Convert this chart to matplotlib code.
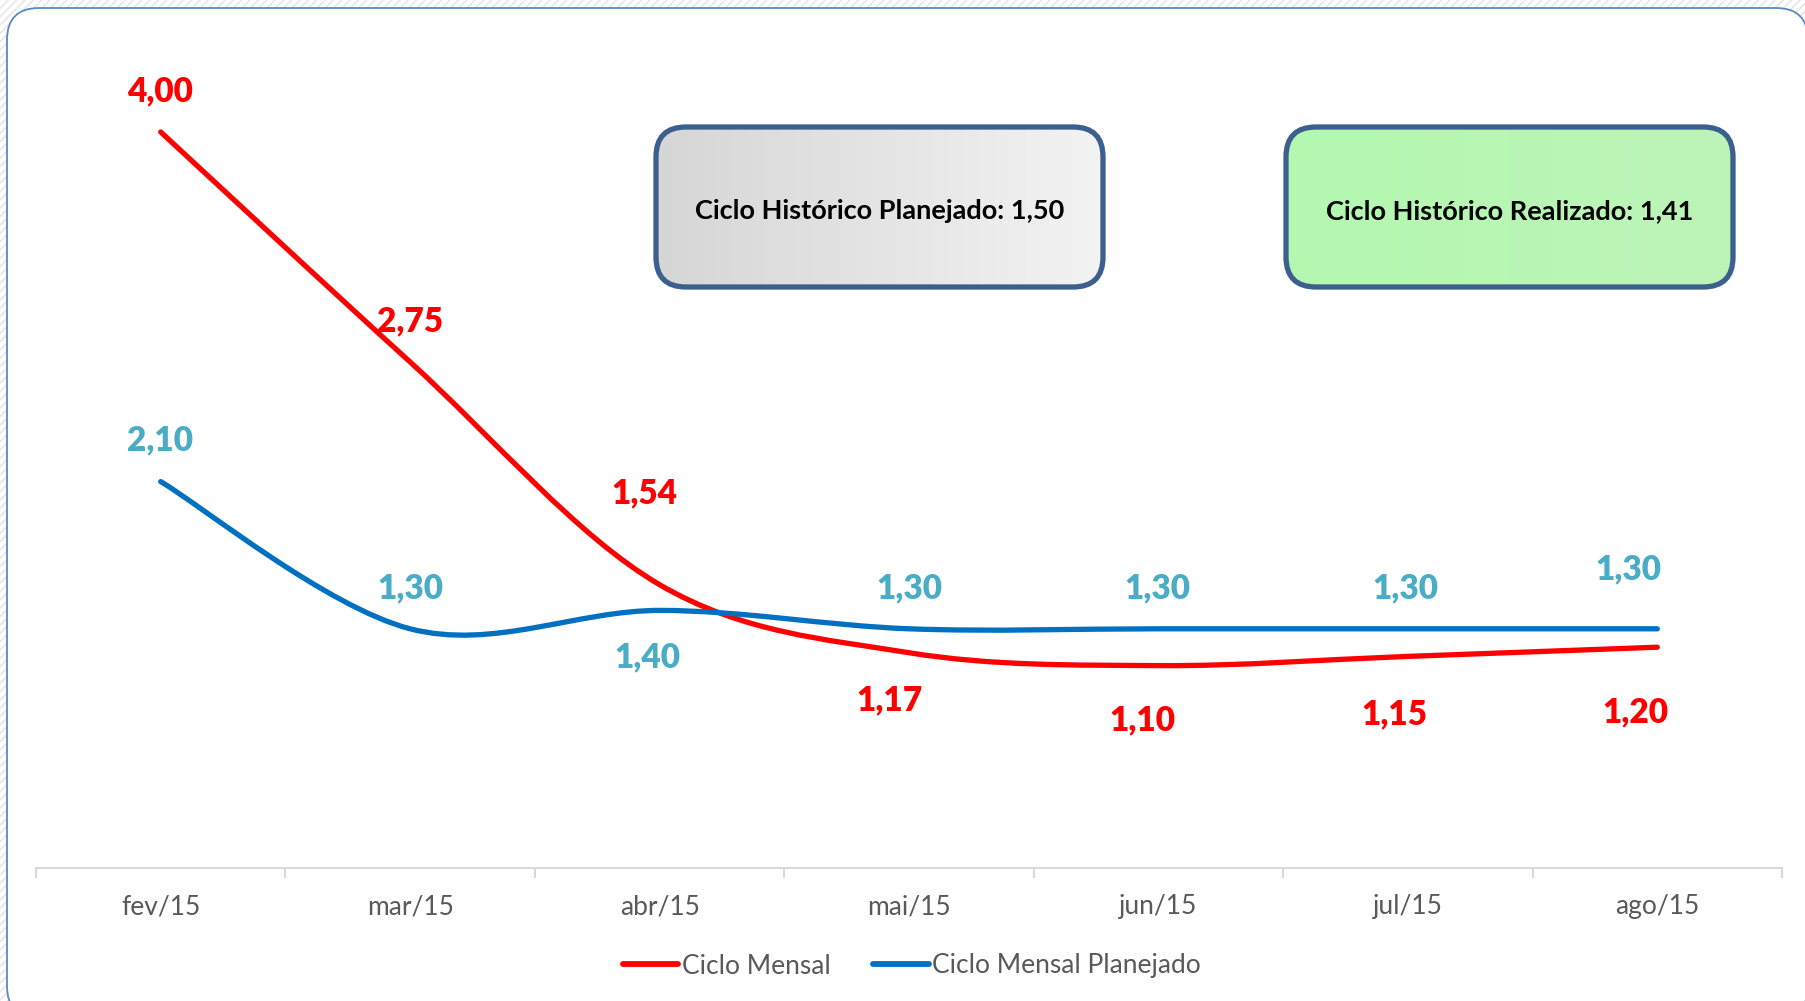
import numpy as np
import matplotlib
matplotlib.use("Agg")
import matplotlib.pyplot as plt
from matplotlib.path import Path
from matplotlib.patches import PathPatch, FancyBboxPatch, Rectangle
from matplotlib.lines import Line2D
from matplotlib.colors import LinearSegmentedColormap

plt.rcParams['font.family'] = ['Lato', 'DejaVu Sans']

# data
meses = ["fev/15", "mar/15", "abr/15", "mai/15", "jun/15", "jul/15", "ago/15"]
ciclo_mensal = [4.00, 2.75, 1.54, 1.17, 1.10, 1.15, 1.20]
ciclo_planejado = [2.10, 1.30, 1.40, 1.30, 1.30, 1.30, 1.30]
hist_planejado = "Ciclo Histórico Planejado: 1,50"
hist_realizado = "Ciclo Histórico Realizado: 1,41"

# label offsets in pixels (dx, dy up)
off_mensal = [(-1, 41), (0, 41), (-15, 91), (-20, -48), (-16, -55), (-13, -58), (-22, -65)]
off_planejado = [(-1, 41), (0, 40), (-12, -47), (0, 40), (-1, 40), (-2, 40), (-29, 59)]

RED = "#FF0000"
BLUE = "#0070C0"
TEAL = "#4BACC6"

W, H = 1805, 1001
fig = plt.figure(figsize=(W / 100, H / 100), dpi=100)

# overlay in pixel units for frame and boxes
ov = fig.add_axes([0, 0, 1, 1])
ov.set_zorder(0)
ov.axis("off")
ov.add_patch(Rectangle((0, 0), W, H, facecolor="white", edgecolor="#e4e4e4",
                       hatch="////", lw=0))
ov.add_patch(FancyBboxPatch((7, 8), 1801, 1010, boxstyle="round,pad=0,rounding_size=32",
                            facecolor="white", edgecolor="#5A8AC6", lw=1.3))


def caixa(x0, y0, x1, y1, c0, c1, texto):
    p = FancyBboxPatch((x0, y0), x1 - x0, y1 - y0, boxstyle="round,pad=0,rounding_size=30",
                       facecolor="none", edgecolor="#3C5F8E", lw=3.8, zorder=3)
    ov.add_patch(p)
    cmap = LinearSegmentedColormap.from_list("g", [c0, c1])
    im = ov.imshow(np.linspace(0, 1, 256)[None, :], extent=(x0, x1, y1, y0),
                   cmap=cmap, aspect="auto", zorder=2)
    im.set_clip_path(p)
    ov.text((x0 + x1) / 2, (y0 + y1) / 2 + 4, texto, ha="center", va="center",
            fontsize=19.5, fontweight="bold", color="black", zorder=4)


caixa(656, 127, 1103, 287, "#d6d6d6", "#f3f3f3", hist_planejado)
caixa(1286, 127, 1733, 287, "#b3f8b0", "#bdf4b8", hist_realizado)
ov.set_xlim(0, W)
ov.set_ylim(H, 0)

# main chart
ax = fig.add_axes([36 / W, 133 / H, 1746 / W, 846 / H])
ax.set_zorder(1)
ax.patch.set_alpha(0)
ax.set_xlim(-0.5, 6.5)
ax.set_ylim(0, 846 / 184)
for s in ["top", "left", "right"]:
    ax.spines[s].set_visible(False)
ax.spines["bottom"].set_color("#D9D9D9")
ax.spines["bottom"].set_linewidth(1.5)
ax.set_yticks([])
ax.set_xticks(range(len(meses)))
ax.set_xticklabels(meses, fontsize=19, color="#595959")
ax.tick_params(axis="x", which="major", length=0, pad=19)
ax.set_xticks(np.arange(-0.5, 7, 1), minor=True)
ax.tick_params(axis="x", which="minor", length=7, color="#D9D9D9", width=1.5)


def curva(vals, cor):
    x = np.arange(len(vals), dtype=float)
    y = np.array(vals, dtype=float)
    pts = np.column_stack([x, y])
    ext = np.vstack([pts[0], pts, pts[-1]])
    verts = [tuple(pts[0])]
    codes = [Path.MOVETO]
    for i in range(len(pts) - 1):
        p0, p1, p2, p3 = ext[i], ext[i + 1], ext[i + 2], ext[i + 3]
        c1 = p1 + (p2 - p0) / 6
        c2 = p2 - (p3 - p1) / 6
        verts += [tuple(c1), tuple(c2), tuple(p2)]
        codes += [Path.CURVE4] * 3
    ax.add_patch(PathPatch(Path(verts, codes), facecolor="none", edgecolor=cor,
                           lw=3.8, capstyle="round", joinstyle="round"))


curva(ciclo_mensal, RED)
curva(ciclo_planejado, BLUE)


def rotulos(vals, offs, cor):
    for i, (v, o) in enumerate(zip(vals, offs)):
        ax.annotate(f"{v:.2f}".replace(".", ","), xy=(i, v), xytext=o,
                    textcoords="offset pixels", ha="center", va="center",
                    fontsize=24, fontweight="heavy", color=cor)


rotulos(ciclo_mensal, off_mensal, RED)
rotulos(ciclo_planejado, off_planejado, TEAL)

handles = [Line2D([], [], color=RED, lw=4.2, solid_capstyle="round"),
           Line2D([], [], color=BLUE, lw=4.2, solid_capstyle="round")]
fig.legend(handles, ["Ciclo Mensal", "Ciclo Mensal Planejado"], loc="center",
           bbox_to_anchor=(912 / W, 1 - 966 / H), ncol=2, frameon=False,
           fontsize=19, labelcolor="#595959", handlelength=2.1, handletextpad=0.15,
           columnspacing=1.6, borderpad=0)

fig.savefig("out.png", dpi=100)
